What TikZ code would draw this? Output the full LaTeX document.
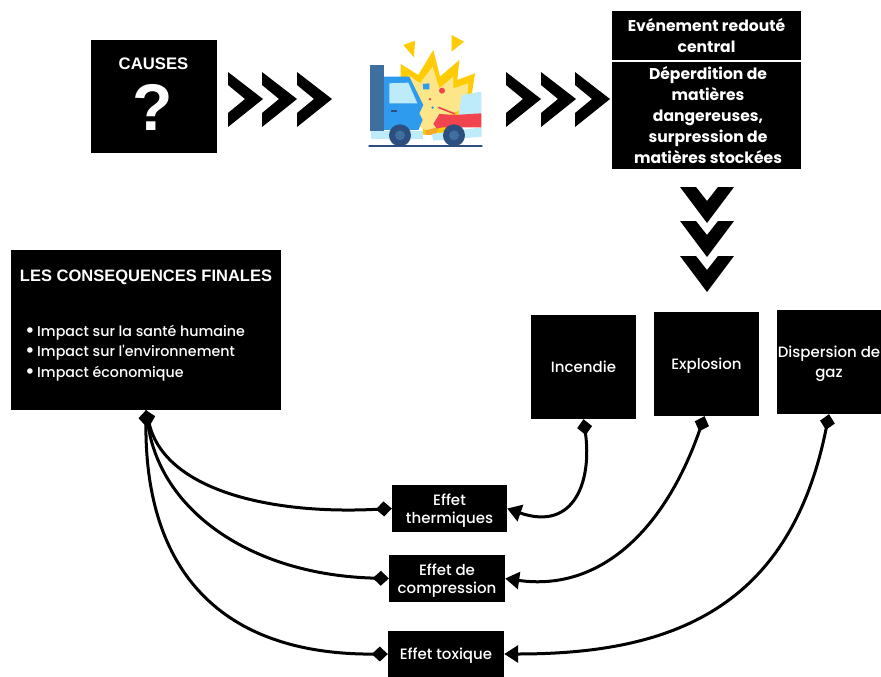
\documentclass[tikz,border=0pt]{standalone}
\usepackage{fontspec}
\setmainfont{Poppins}
\newfontfamily\hv{Liberation Sans}
\usetikzlibrary{arrows.meta}
\definecolor{tyel}{HTML}{FFCB05}
\definecolor{lyel}{HTML}{FDE58A}
\definecolor{tblue}{HTML}{2E9BEE}
\definecolor{dblue}{HTML}{3F6F9E}
\definecolor{navy}{HTML}{2D4F80}
\definecolor{lblue}{HTML}{BDEBFA}
\definecolor{tred}{HTML}{F2444F}
\definecolor{torange}{HTML}{F9A825}
\tikzset{
 x=1pt,y=-1pt,
 box/.style={fill=black,inner sep=0pt},
 hdr/.style={text=white,inner sep=0pt,align=center,font=\fontsize{15.6}{20.8}\selectfont\bfseries},
 soft/.style={text=white,inner sep=0pt,align=center,font=\fontsize{15}{18}\selectfont\fontspec{Poppins Medium}},
 conn/.style={line width=3pt,black},
}
\newcommand{\chevH}[1]{\fill[black] (#1,72)--(#1+35,99)--(#1,127)--(#1,113)--(#1+17,99)--(#1,85)--cycle;}
\newcommand{\chevV}[1]{\fill[black] (680,#1)--(707,#1+36)--(734,#1)--(718,#1)--(707,#1+14)--(696,#1)--cycle;}
\newcommand{\bigbul}{\makebox[12pt][l]{\raisebox{-1pt}{\fontsize{21}{20}\selectfont•}}}
\begin{document}
\begin{tikzpicture}
\useasboundingbox (0,0) rectangle (881,677);
\fill[white] (0,0) rectangle (881,677);
% boxes
\node[box,minimum width=126pt,minimum height=113pt] (causes) at (154,96.5) {};
\node[text=white,inner sep=0pt,font=\hv\fontsize{16.7}{18}\selectfont\bfseries] (causeslabel) at (153.5,63.5) {CAUSES};
\node[text=white,inner sep=0pt,font=\hv\fontsize{66}{68}\selectfont\bfseries] (question) at (153,107) {?};
\node[box,minimum width=189pt,minimum height=49pt] (erc) at (706.5,35.5) {};
\node[hdr] (erctext) at (706.5,35.5) {Evénement redouté\\central};
\node[box,minimum width=189pt,minimum height=107pt] (deper) at (706.5,115.5) {};
\node[hdr] (depertext) at (708,115) {Déperdition de\\matières\\dangereuses,\\surpression de\\matières stockées};
\node[box,minimum width=270pt,minimum height=160pt] (final) at (146,330) {};
\node[text=white,inner sep=0pt,font=\hv\fontsize{16.5}{18}\selectfont\bfseries] (finaltitle) at (146,277) {LES CONSEQUENCES FINALES};
\node[text=white,inner sep=0pt,align=left,anchor=west,font=\fontsize{14.25}{20.5}\selectfont\fontspec{Poppins Medium}] (finallist) at (25,353) {\bigbul Impact sur la santé humaine\\\bigbul Impact sur l'environnement\\\bigbul Impact économique};
\node[box,minimum width=105pt,minimum height=104pt] (inc) at (583.5,367) {};
\node[soft] (inctext) at (583.5,367) {Incendie};
\node[box,minimum width=105pt,minimum height=104pt] (exp) at (706.5,364) {};
\node[soft] (exptext) at (706.5,366) {Explosion};
\node[box,minimum width=104pt,minimum height=104pt] (dis) at (829,362) {};
\node[soft,font=\fontsize{15}{20}\selectfont\fontspec{Poppins Medium}] (distext) at (829,363.5) {Dispersion de\\gaz};
\node[box,minimum width=115pt,minimum height=47pt] (th) at (449.5,508.5) {};
\node[soft] (thtext) at (449.5,510.5) {Effet\\thermiques};
\node[box,minimum width=116pt,minimum height=47pt] (co) at (447,578.5) {};
\node[soft] (cotext) at (447,581) {Effet de\\compression};
\node[box,minimum width=116pt,minimum height=46pt] (to) at (446,654) {};
\node[soft] (totext) at (446,656) {Effet toxique};
% chevrons
\chevH{228}\chevH{262}\chevH{297}
\chevH{506}\chevH{541}\chevH{575}
\chevV{187}\chevV{221}\chevV{256}
% connectors
\tikzset{dia/.tip={Diamond[length=16pt,width=15pt]},tri/.tip={Triangle[length=14pt,width=17pt]}}
\draw[conn,{dia}-{tri}] (inc.south) .. controls (592,480) and (575,532) .. (th.east);
\draw[conn,{dia}-{tri}] ([xshift=-2pt]exp.south) .. controls (665,530) and (600,592) .. (co.east);
\draw[conn,{dia}-{tri}] (dis.south) .. controls (790,610) and (670,654) .. (to.east);
\draw[conn,{dia}-{dia}] (final.south) .. controls (165,490) and (270,515) .. (th.west);
\draw[conn,{dia}-{dia}] (final.south) .. controls (160,510) and (250,575) .. (co.west);
\draw[conn,{dia}-{dia}] (final.south) .. controls (145,570) and (220,655) .. (to.west);
% crash icon
\begin{scope}[shift={(340,20)},x=0.3333pt,y=-0.3333pt]
\fill[tyel] (190,75)--(225,62)--(222,112)--cycle;
\fill[tyel] (335,45)--(372,65)--(335,95)--cycle;
\fill[tyel] (182,132)--(235,165)--(280,90)--(300,170)--(358,120)--(352,180)--(405,160)--(395,225)--(330,345)--(250,345)--(240,250)--(182,175)--cycle;
\fill[lyel] (205,165)--(240,190)--(278,140)--(298,205)--(340,170)--(340,205)--(385,190)--(380,260)--(300,300)--(280,345)--(240,320)--cycle;
\fill[torange] (255,332)--(300,320)--(285,345)--(258,345)--cycle;
\fill[lblue] (92,332)--(250,332)--(250,358)--(92,358)--cycle;
\fill[lblue] (275,342)--(425,322)--(425,350)--(280,362)--cycle;
\fill[tblue] (132,170)--(208,170)--(250,255)--(238,280)--(248,300)--(235,330)--(132,330)--cycle;
\fill[lblue] (148,190)--(205,188)--(232,250)--(148,250)--cycle;
\fill[navy] (154,270)--(172,270)--(172,276)--(154,276)--cycle;
\fill[dblue] (90,134)--(132,134)--(132,332)--(90,332)--cycle;
\fill[lblue] (365,225)--(424,215)--(424,282)--(355,286)--cycle;
\fill[tred] (280,312)--(298,282)--(345,285)--(424,280)--(424,322)--(375,322)--(310,322)--(290,325)--cycle;
\draw[tred,line width=1.6pt] (295,262)--(345,282);
\fill[tblue] (248,192)--(268,190)--(268,208)--(250,208)--cycle;
\fill[tred] (306,212) circle[radius=9];
\fill[tred] (270,238) circle[radius=4];
\fill[tblue] (278,263) circle[radius=4];
\fill[navy] (180,346) circle[radius=33];
\fill[dblue] (180,346) circle[radius=15];
\fill[navy] (342,346) circle[radius=33];
\fill[dblue] (342,346) circle[radius=15];
\draw[navy,line width=2.4pt,line cap=round] (88,378)--(425,378);
\end{scope}
\end{tikzpicture}
\end{document}
